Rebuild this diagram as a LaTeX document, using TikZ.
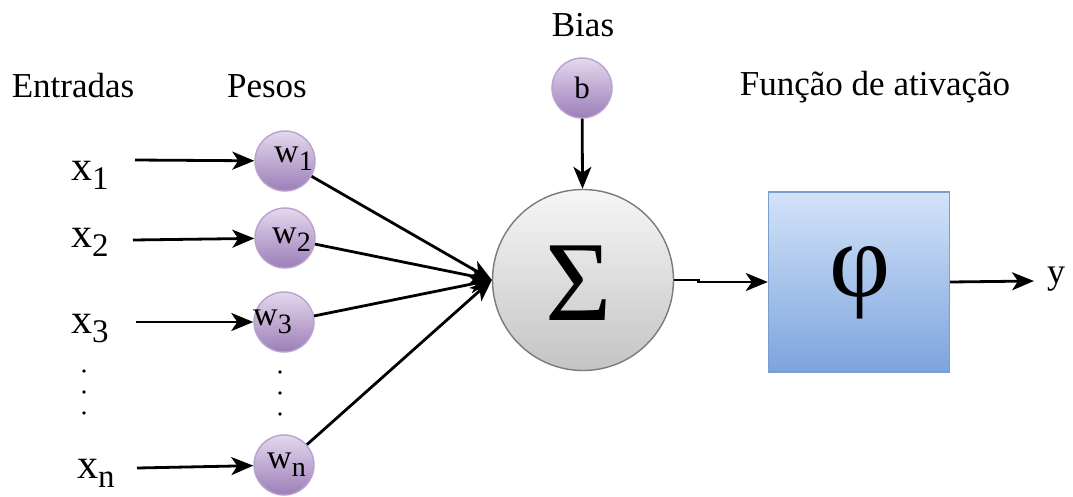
\documentclass[tikz,border=0pt]{standalone}
\usepackage{fontspec}
\setmainfont{Liberation Serif}
\usetikzlibrary{arrows.meta}
\definecolor{wtop}{HTML}{E4D8EE}
\definecolor{wbot}{HTML}{9C7EB8}
\definecolor{wline}{HTML}{B7A2CC}
\definecolor{stop}{HTML}{F6F6F6}
\definecolor{sbot}{HTML}{C4C4C4}
\definecolor{sline}{HTML}{7A7A7A}
\definecolor{btop}{HTML}{D2E3F8}
\definecolor{bbot}{HTML}{7DA4DD}
\definecolor{bline}{HTML}{7B9DCD}
\newcommand\fs[1]{\fontsize{#1}{#1}\selectfont}
\newcommand\xlab[1]{{\fs{42}x}\raisebox{-9pt}{\fs{33}#1}}
\newcommand\wlab[1]{{\fs{34}w}\raisebox{-8pt}{\fs{28}#1}}
\begin{document}
\begin{tikzpicture}[x=1pt,y=-1pt,
  wnode/.style={circle,draw=wline,line width=1.4pt,top color=wtop,bottom color=wbot,minimum size=60pt,inner sep=0pt},
  signode/.style={circle,draw=sline,line width=1.4pt,top color=stop,bottom color=sbot,minimum size=181pt,inner sep=0pt},
  phinode/.style={rectangle,draw=bline,line width=1.4pt,top color=btop,bottom color=bbot,minimum width=181pt,minimum height=180pt,inner sep=0pt},
  lbl/.style={inner sep=0pt,anchor=base west},
  title/.style={inner sep=0pt,anchor=base,font=\fs{35}},
  dotn/.style={circle,fill=black,inner sep=0pt,minimum size=3.8pt},
  conn/.style={line width=2.8pt,-{Stealth[length=22pt,width=18pt,inset=6pt]}}]
\useasboundingbox (0,0) rectangle (1073,496);
% titles
\node[title] (tin) at (73,97) {Entradas};
\node[title] (tpe) at (267,97) {Pesos};
\node[title] (tbi) at (583,36) {Bias};
\node[title] (tfa) at (875,95) {Função de ativação};
% input labels
\node[lbl] (x1) at (71,180) {\xlab{1}};
\node[lbl] (x2) at (71,247) {\xlab{2}};
\node[lbl] (x3) at (71,333) {\xlab{3}};
\node[lbl] (xn) at (77,478) {\xlab{n}};
\coordinate (s1) at (135,160);
\coordinate (s2) at (133,240);
\coordinate (s3) at (136,322);
\coordinate (sn) at (137,468);
% weights
\node[wnode] (w1) at (285,161) {};
\node[wnode] (w2) at (285,238) {};
\node[wnode] (w3) at (284,322) {};
\node[wnode] (wn) at (284,465) {};
\node[lbl] (lw1) at (274,162) {\wlab{1}};
\node[lbl] (lw2) at (272,243) {\wlab{2}};
\node[lbl] (lw3) at (253,325) {\wlab{3}};
\node[lbl] (lwn) at (267,468) {\wlab{n}};
% dots
\node[dotn] (da1) at (84,371) {};
\node[dotn] (da2) at (84,392) {};
\node[dotn] (da3) at (84,413) {};
\node[dotn] (db1) at (280,372) {};
\node[dotn] (db2) at (280,393) {};
\node[dotn] (db3) at (280,414) {};
% bias
\node[wnode] (b) at (582,88) {\fs{31}b};
% sum
\node[signode] (sig) at (583,280) {};
\node[inner sep=0pt] (sigt) at (579,283) {\fs{114}Σ};
% activation
\node[phinode] (phi) at (859,282) {};
\node[inner sep=0pt] (phit) at (860,283) {\fs{106}φ};
\node[lbl] (y) at (1047,283) {\fs{36}y};
\coordinate (yend) at (1034,281);
% connectors
\draw[conn] (s1) -- (w1);
\draw[conn] (s2) -- (w2);
\draw[conn] (s3) -- (w3);
\draw[conn] (sn) -- (wn);
\draw[conn] (w1) -- (sig.west);
\draw[conn] (w2) -- (sig.west);
\draw[conn] (w3) -- (sig.west);
\draw[conn] (wn) -- (sig.west);
\draw[conn] (b) -- (sig);
\draw[conn] (sig.east) -- ++(24,0) |- (phi.west);
\draw[conn] (phi.east) -- (yend);
\end{tikzpicture}
\end{document}
